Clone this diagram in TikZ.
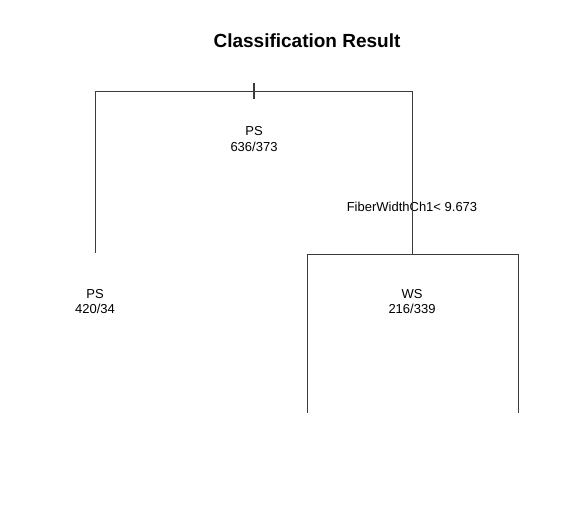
\documentclass[tikz,border=0pt]{standalone}
\usepackage{fontspec}
\setmainfont{Liberation Sans}
\usetikzlibrary{positioning,calc}
\definecolor{rama}{RGB}{60,60,60}

\begin{document}
\begin{tikzpicture}[x=1pt,y=-1pt,
hoja/.style={align=center,font=\fontsize{13}{15.5}\selectfont,inner sep=0pt},
regla/.style={font=\fontsize{13}{15}\selectfont,inner sep=0pt},
titulo/.style={font=\bfseries\fontsize{19}{21}\selectfont,inner sep=0pt},
rama/.style={draw=rama,line width=0.7pt}
]
\useasboundingbox (0,0) rectangle (576,526);
\node[titulo] (tit) at (307,41) {Classification Result};

% nodos del arbol
\coordinate (raiz) at (254,91);
\coordinate (izq) at (95,91);
\coordinate (der) at (412,91);
\coordinate (izqfin) at (95,253);
\coordinate (dersplit) at (412,254);
\coordinate (der1) at (307,254);
\coordinate (der2) at (518,254);
\coordinate (der1fin) at (307,413);
\coordinate (der2fin) at (518,413);

\node[hoja] (n1) at (254,139) {PS\\636/373};
\node[regla] (r1) at (412,207) {FiberWidthCh1< 9.673};
\node[hoja] (n2) at (95,301.5) {PS\\420/34};
\node[hoja] (n3) at (412,301.5) {WS\\216/339};

\draw[rama] (izqfin) -- (izq) -- (der) -- (dersplit);
\draw[rama] (der1fin) -- (der1) -- (der2) -- (der2fin);
\draw[rama,line width=1.1pt] ($(raiz)+(0,-8)$) -- ($(raiz)+(0,8)$);
\end{tikzpicture}
\end{document}
